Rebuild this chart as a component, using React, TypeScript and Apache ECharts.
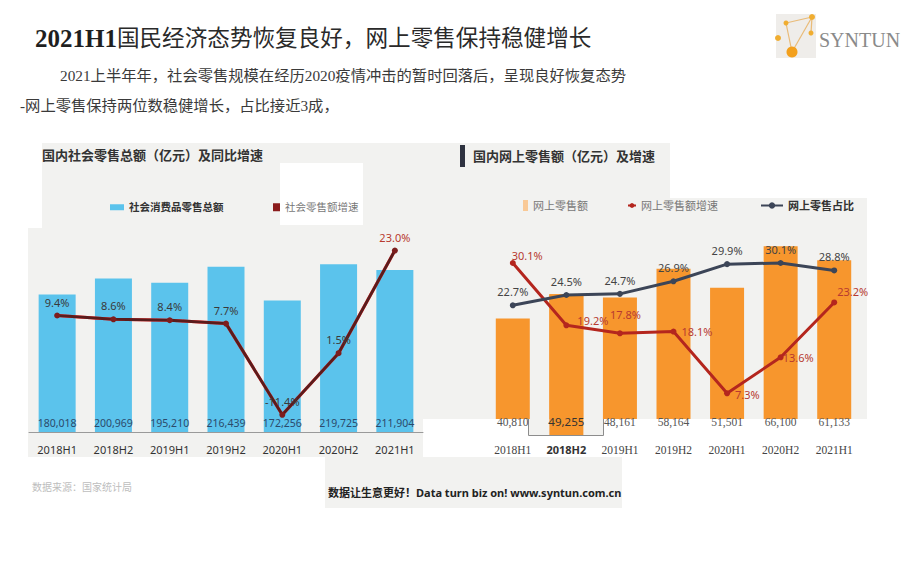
import React, { useEffect, useRef } from 'react';
import * as echarts from 'echarts';

const categories = ['2018H1', '2018H2', '2019H1', '2019H2', '2020H1', '2020H2', '2021H1'];
const retailTotal = [180018, 200969, 195210, 216439, 172256, 219725, 211904];
const retailGrowth = [9.4, 8.6, 8.4, 7.7, -11.4, 1.5, 23.0];
const onlineRetail = [40810, 49255, 48161, 58164, 51501, 66100, 61133];
const onlineGrowth = [30.1, 19.2, 17.8, 18.1, 7.3, 13.6, 23.2];
const onlineShare = [22.7, 24.5, 24.7, 26.9, 29.9, 30.1, 28.8];

const SANS = '"Noto Sans", "Noto Sans CJK SC", sans-serif';
const SERIF = '"Liberation Serif", "DejaVu Serif", "Noto Sans CJK SC", serif';
const GRAY = '#f2f2f0';

// label offsets (style only) for the online growth line labels
const redLabelOffsets = [[-8, -8], [4, -5], [-17, -19], [1, 0], [1, 1], [-5, 0], [-4, -11]];

const fmtNum = (v: number) => v.toLocaleString('en-US');
const fmtPct = (p: any) => Number(p.value).toFixed(1) + '%';

function txt(x: number, y: number, text: string, extra: any = {}) {
  return {
    type: 'text',
    x,
    y,
    style: {
      text,
      fill: '#333',
      fontFamily: SANS,
      fontSize: 12,
      align: 'left',
      verticalAlign: 'middle',
      textAlign: 'left',
      textVerticalAlign: 'middle',
      ...extra,
    },
  };
}

export default function App() {
  const ref = useRef<HTMLDivElement>(null);

  useEffect(() => {
    if (!ref.current) return;
    const chart = echarts.init(ref.current, undefined, { renderer: 'svg' });

    const option: any = {
      animation: false,
      backgroundColor: '#ffffff',
      graphic: [
        // panel backgrounds
        { type: 'rect', shape: { x: 28, y: 143, width: 839, height: 276 }, style: { fill: GRAY } },
        { type: 'rect', shape: { x: 28, y: 419, width: 395, height: 38 }, style: { fill: GRAY } },
        { type: 'rect', shape: { x: 325, y: 457, width: 297, height: 51 }, style: { fill: GRAY } },
        { type: 'rect', shape: { x: 28, y: 143, width: 14, height: 85 }, style: { fill: '#ffffff' } },
        { type: 'rect', shape: { x: 280, y: 163, width: 83, height: 62 }, style: { fill: '#ffffff' } },
        { type: 'rect', shape: { x: 670, y: 130, width: 200, height: 68 }, style: { fill: '#ffffff' } },
        { type: 'rect', shape: { x: 528, y: 419, width: 76, height: 16 }, style: { fill: GRAY } },
        {
          type: 'polyline',
          shape: { points: [[528.5, 419], [528.5, 435.5], [603.5, 435.5], [603.5, 419]] },
          style: { stroke: '#8c8c8c', lineWidth: 1, fill: null },
        },
        // right title marker
        { type: 'rect', shape: { x: 460, y: 145, width: 5, height: 22 }, style: { fill: '#2e3240' } },
        // logo
        { type: 'rect', shape: { x: 776, y: 14, width: 40, height: 44 }, style: { fill: '#efedea' } },
        { type: 'line', shape: { x1: 786, y1: 23, x2: 812, y2: 17 }, style: { stroke: '#e9bb78', lineWidth: 1.2 } },
        { type: 'line', shape: { x1: 786, y1: 23, x2: 792, y2: 52 }, style: { stroke: '#e9bb78', lineWidth: 1.2 } },
        { type: 'line', shape: { x1: 812, y1: 17, x2: 792, y2: 52 }, style: { stroke: '#e9bb78', lineWidth: 1.2 } },
        { type: 'line', shape: { x1: 812, y1: 17, x2: 811, y2: 33 }, style: { stroke: '#e9bb78', lineWidth: 1.2 } },
        { type: 'circle', shape: { cx: 786, cy: 23, r: 2.5 }, style: { fill: '#f0ad30' } },
        { type: 'circle', shape: { cx: 812, cy: 17, r: 3 }, style: { fill: '#f0ad30' } },
        { type: 'circle', shape: { cx: 811, cy: 33, r: 2.5 }, style: { fill: '#f0ad30' } },
        { type: 'circle', shape: { cx: 778, cy: 38, r: 3 }, style: { fill: '#f0ad30' } },
        { type: 'circle', shape: { cx: 792, cy: 52, r: 5.5 }, style: { fill: '#f3a01c' } },
        txt(819, 40, 'SYNTUN', { fontFamily: SERIF, fontSize: 20, fill: '#8a8a8a' }),
        // page title
        {
          type: 'text',
          x: 35,
          y: 38,
          style: {
            text: '{a|2021H1}{b|国民经济态势恢复良好，网上零售保持稳健增长}',
            verticalAlign: 'middle',
            textVerticalAlign: 'middle',
            rich: {
              a: { fontFamily: SERIF, fontWeight: 'bold', fontSize: 25, fill: '#1f1f1f' },
              b: { fontFamily: SERIF, fontSize: 22.6, fill: '#2a2a2a' },
            },
          },
        },
        txt(60, 75, '2021上半年年，社会零售规模在经历2020疫情冲击的暂时回落后，呈现良好恢复态势', {
          fontFamily: SERIF, fontSize: 15.3, fill: '#3a3a3a',
        }),
        txt(20, 105, '-网上零售保持两位数稳健增长，占比接近3成，', {
          fontFamily: SERIF, fontSize: 15.3, fill: '#3a3a3a',
        }),
        // panel titles
        txt(42, 155, '国内社会零售总额（亿元）及同比增速', { fontWeight: 'bold', fontSize: 13, fill: '#333' }),
        txt(473, 156, '国内网上零售额（亿元）及增速', { fontWeight: 'bold', fontSize: 13, fill: '#333' }),
        // footer
        txt(32, 487, '数据来源：国家统计局', { fontFamily: SERIF, fontSize: 10, fill: '#bdbdbd' }),
        txt(328, 492, '数据让生意更好！Data turn biz on! www.syntun.com.cn', {
          fontWeight: 'bold', fontSize: 11, fill: '#222',
        }),
      ],
      legend: [
        {
          left: 105, top: 197, selectedMode: false, itemWidth: 14, itemHeight: 6,
          data: [{ name: '社会消费品零售总额', icon: 'rect' }],
          textStyle: { fontFamily: SANS, fontWeight: 'bold', fontSize: 10.5, color: '#333' },
        },
        {
          left: 268, top: 197, selectedMode: false, itemWidth: 7, itemHeight: 8,
          data: [{ name: '社会零售额增速', icon: 'rect', itemStyle: { color: '#8b1c1c' } }],
          textStyle: { fontFamily: SERIF, fontSize: 10.5, color: '#777' },
        },
        {
          left: 518, top: 195, selectedMode: false, itemWidth: 5, itemHeight: 11,
          data: [{ name: '网上零售额', icon: 'rect', itemStyle: { color: '#f9c996' } }],
          textStyle: { fontFamily: SERIF, fontSize: 11, color: '#777' },
        },
        {
          left: 622, top: 195, selectedMode: false, itemWidth: 8, itemHeight: 6,
          data: [{ name: '网上零售额增速' }],
          textStyle: { fontFamily: SERIF, fontSize: 11, color: '#777' },
        },
        {
          left: 755, top: 195, selectedMode: false, itemWidth: 22, itemHeight: 8,
          data: [{ name: '网上零售占比' }],
          textStyle: { fontFamily: SANS, fontWeight: 'bold', fontSize: 11, color: '#333' },
        },
      ],
      grid: [
        { left: 29, top: 241, width: 394, height: 191 },
        { left: 486, top: 235, width: 375, height: 184 },
      ],
      xAxis: [
        {
          gridIndex: 0, type: 'category', data: categories,
          axisTick: { show: false },
          axisLine: { lineStyle: { color: '#9a9a9a', width: 1 } },
          axisLabel: { color: '#333', fontSize: 11, fontFamily: SANS, margin: 12, interval: 0 },
        },
        {
          gridIndex: 1, type: 'category', data: categories,
          axisTick: { show: false },
          axisLine: { show: false },
          axisLabel: {
            color: '#444', fontSize: 11.5, fontFamily: SERIF, margin: 25, interval: 0,
            formatter: (v: string, i: number) => (i === 1 ? `{s|${v}}` : v),
            rich: { s: { fontFamily: SANS, fontWeight: 'bold', fontSize: 11, color: '#333' } },
          },
        },
      ],
      yAxis: [
        { gridIndex: 0, type: 'value', min: 0, max: 250000, show: false },
        { gridIndex: 0, type: 'value', min: -15, max: 25, show: false },
        { gridIndex: 1, type: 'value', min: 5600, max: 70000, show: false },
        { gridIndex: 1, type: 'value', min: 2.8, max: 35, show: false },
      ],
      series: [
        {
          name: '社会消费品零售总额', type: 'bar', xAxisIndex: 0, yAxisIndex: 0,
          data: retailTotal, barWidth: 37,
          itemStyle: { color: '#5bc3ec' },
          label: {
            show: true, position: 'insideBottom', distance: 4,
            formatter: (p: any) => fmtNum(p.value),
            color: '#2c4a6b', fontSize: 10.5, fontFamily: SANS,
          },
        },
        {
          name: '社会零售额增速', type: 'line', xAxisIndex: 0, yAxisIndex: 1,
          data: retailGrowth.map((v, i) => (i === retailGrowth.length - 1 ? { value: v, label: { color: '#b83a2e' } } : v)),
          symbol: 'circle', symbolSize: 6,
          lineStyle: { color: '#5a1f1f', width: 3, shadowColor: 'rgba(255,30,30,0.9)', shadowBlur: 1.5 },
          itemStyle: { color: '#7d1d1d' },
          label: { show: true, position: 'top', formatter: fmtPct, color: '#3a3a3a', fontSize: 11, fontFamily: SANS },
        },
        {
          name: '网上零售额', type: 'bar', xAxisIndex: 1, yAxisIndex: 2,
          data: onlineRetail.map((v, i) => (i === 1 ? { value: v, label: { fontFamily: SANS, color: '#333', fontSize: 11.5 } } : v)),
          barWidth: 34, clip: true,
          itemStyle: { color: '#f7962d' },
          label: {
            show: true, position: 'bottom', distance: 0, offset: [0, -3],
            formatter: (p: any) => fmtNum(p.value),
            color: '#555', fontSize: 11.5, fontFamily: SERIF,
          },
        },
        {
          name: '网上零售额延伸', type: 'bar', xAxisIndex: 1, yAxisIndex: 2, z: 1,
          data: onlineRetail.map((v, i) => (i === 1 ? v : '-')),
          barWidth: 34, barGap: '-100%', clip: false, silent: true,
          itemStyle: { color: '#f7962d' },
        },
        {
          name: '网上零售额增速', type: 'line', xAxisIndex: 1, yAxisIndex: 3,
          data: onlineGrowth.map((v, i) => ({ value: v, label: { offset: redLabelOffsets[i] } })),
          symbol: 'circle', symbolSize: 6,
          lineStyle: { color: '#b4261e', width: 3 },
          itemStyle: { color: '#b4261e' },
          label: { show: true, position: 'right', distance: 4, formatter: fmtPct, color: '#b73a30', fontSize: 11, fontFamily: SANS },
        },
        {
          name: '网上零售占比', type: 'line', xAxisIndex: 1, yAxisIndex: 3,
          data: onlineShare,
          symbol: 'circle', symbolSize: 6,
          lineStyle: { color: '#3c4557', width: 3 },
          itemStyle: { color: '#3c4557' },
          label: { show: true, position: 'top', formatter: fmtPct, color: '#444', fontSize: 11, fontFamily: SANS },
        },
      ],
    };

    chart.setOption(option);
    return () => chart.dispose();
  }, []);

  return (
    <div
      ref={ref}
      style={{ position: 'fixed', left: 0, top: 0, width: 920, height: 561, background: '#fff' }}
    />
  );
}
